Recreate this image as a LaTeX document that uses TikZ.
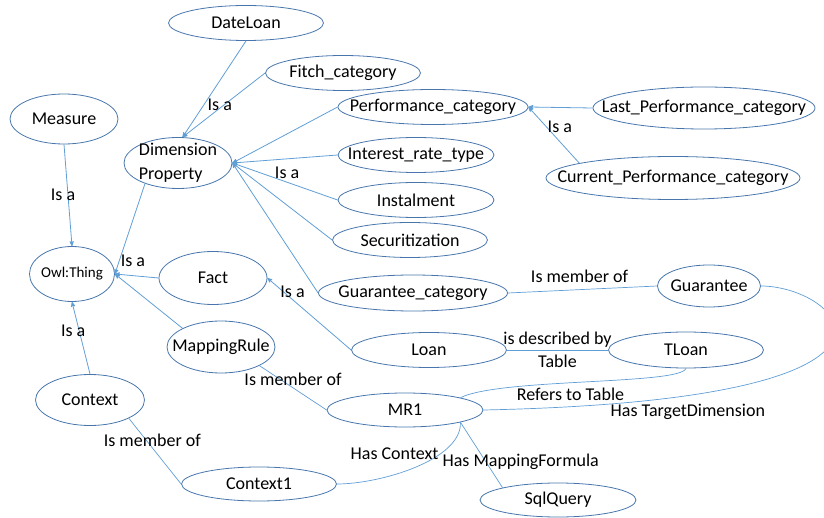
\documentclass[tikz,border=0pt]{standalone}
\usepackage{fontspec}
\setmainfont{Carlito}
\usepackage{tikz}
\usetikzlibrary{arrows,shapes.geometric}
\definecolor{ringblue}{RGB}{72,118,172}
\definecolor{lineblue}{RGB}{96,158,214}
\tikzset{
    %Define standard arrow tip
    >=stealth',
    font=\fontsize{18}{24}\selectfont,
    %Define style for ellipses
    oval/.style={
           ellipse,
           draw=ringblue, line width=0.8pt,
           inner xsep=-60pt, inner ysep=-15pt,
           align=center},
    lang oval/.style={oval,minimum width=155pt,minimum height=35pt},
    rund oval/.style={oval,minimum width=108pt,minimum height=51pt},
    % Define arrow style
    pil/.style={
	   ->,
	   draw=lineblue,
	   line width=0.8pt},
    % Define plain relation style
    linje/.style={
	   -,
	   draw=lineblue,
	   line width=0.7pt},
    % Define style for relation texts
    tekst/.style={inner sep=1pt,text=black}
}

\begin{document}
\begin{tikzpicture}[x=1pt,y=-1pt]
  \useasboundingbox (0,0) rectangle (824,518);
  % concepts
  \node[lang oval] (dateloan) at (246,23) {DateLoan};
  \node[lang oval] (fitch) at (343,73) {Fitch\_category};
  \node[rund oval,minimum height=50pt] (measure) at (64,119) {Measure};
  \node[rund oval,align=left] (dimprop) at (178,163) {Dimension\\Property};
  \node[oval,minimum width=190pt,minimum height=35pt] (perf) at (433,107) {Performance\_category};
  \node[oval,minimum width=222pt,minimum height=42pt] (lastperf) at (704,108) {Last\_Performance\_category};
  \node[oval,minimum width=254pt,minimum height=43pt] (curperf) at (673,178) {Current\_Performance\_category};
  \node[lang oval,minimum width=156pt] (interest) at (416,155) {Interest\_rate\_type};
  \node[lang oval,minimum width=156pt] (instalment) at (416,200) {Instalment};
  \node[lang oval] (secur) at (410,240) {Securitization};
  \node[oval,minimum width=85pt,minimum height=55pt,font=\fontsize{15}{18}\selectfont] (owl) at (72,274) {Owl:Thing};
  \node[rund oval,minimum height=53pt] (fact) at (213,278) {Fact};
  \node[oval,minimum width=189pt,minimum height=36pt] (guarcat) at (413,293) {Guarantee\_category};
  \node[oval,minimum width=103pt,minimum height=42pt] (guarantee) at (709,286) {Guarantee};
  \node[lang oval] (loan) at (429,350) {Loan};
  \node[lang oval,minimum height=36pt] (tloan) at (686,350) {TLoan};
  \node[rund oval,minimum height=52pt] (maprule) at (221,347) {MappingRule};
  \node[lang oval,minimum width=156pt,minimum height=34pt] (mr1) at (405,410) {MR1};
  \node[rund oval,minimum width=109pt] (context) at (90,400) {Context};
  \node[lang oval,minimum height=34pt] (context1) at (259,484) {Context1};
  \node[lang oval,minimum width=156pt,minimum height=34pt] (sqlquery) at (558,500) {SqlQuery};

  % is-a arrows
  \path
    (dateloan.south) edge[pil] (dimprop.80)
    (fitch.west) edge[pil] node[tekst,pos=0.5,xshift=-4]{Is a} (dimprop.80)
    (perf.west) edge[pil] (dimprop.east)
    (interest.west) edge[pil] (dimprop.east)
    (instalment.west) edge[pil] node[tekst,pos=0.48,yshift=9]{Is a} (dimprop.east)
    (secur.west) edge[pil] (dimprop.east)
    (guarcat.west) edge[pil] (dimprop.east)
    (lastperf.west) edge[pil] (perf.east)
    (curperf.171) edge[pil] node[tekst,pos=0.5,xshift=6,yshift=8]{Is a} (perf.east)
    (measure.south) edge[pil] node[tekst,pos=0.5,xshift=-5]{Is a} (owl.north)
    (dimprop.212) edge[pil] node[tekst,pos=0.85,right]{Is a} (owl.east)
    (fact.west) edge[pil] (owl.east)
    (maprule.north west) edge[pil] (owl.east)
    (loan.west) edge[pil] node[tekst,pos=0.7,yshift=8]{Is a} (fact.east)
    (context.north) edge[pil] node[tekst,pos=0.6,xshift=-6]{Is a} (owl.south);

  % other relations
  \path
    (guarcat.east) edge[linje] node[tekst,pos=0.48,yshift=13]{Is member of} (guarantee.west)
    (loan.east) edge[linje] node[tekst,pos=0.5,align=center,font=\fontsize{18}{23}\selectfont]{is described by\\Table} (tloan.west)
    (maprule.south east) edge[linje] node[tekst,pos=0.5,yshift=9]{Is member of} (mr1.west)
    (context.south east) edge[linje] node[tekst,pos=0.45,yshift=8]{Is member of} (context1.west)
    (mr1.south east) edge[linje] node[tekst,pos=0.6,xshift=35]{Has MappingFormula} (sqlquery.north west);
  \draw[linje] (context1.east) .. controls (380,484) and (462,460) .. (mr1.south east)
    node[tekst,pos=0.45,xshift=-13,yshift=17]{Has Context};
  \draw[linje] (tloan.south) .. controls (680,385) and (500,378) .. (mr1.north east)
    node[tekst,pos=0.55,yshift=-12]{Refers to Table};
  \draw[linje] (guarantee.east) .. controls (840,286) and (960,400) .. (mr1.east)
    node[tekst,pos=0.8,xshift=-15,yshift=-19]{Has TargetDimension};
\end{tikzpicture}
\end{document}
